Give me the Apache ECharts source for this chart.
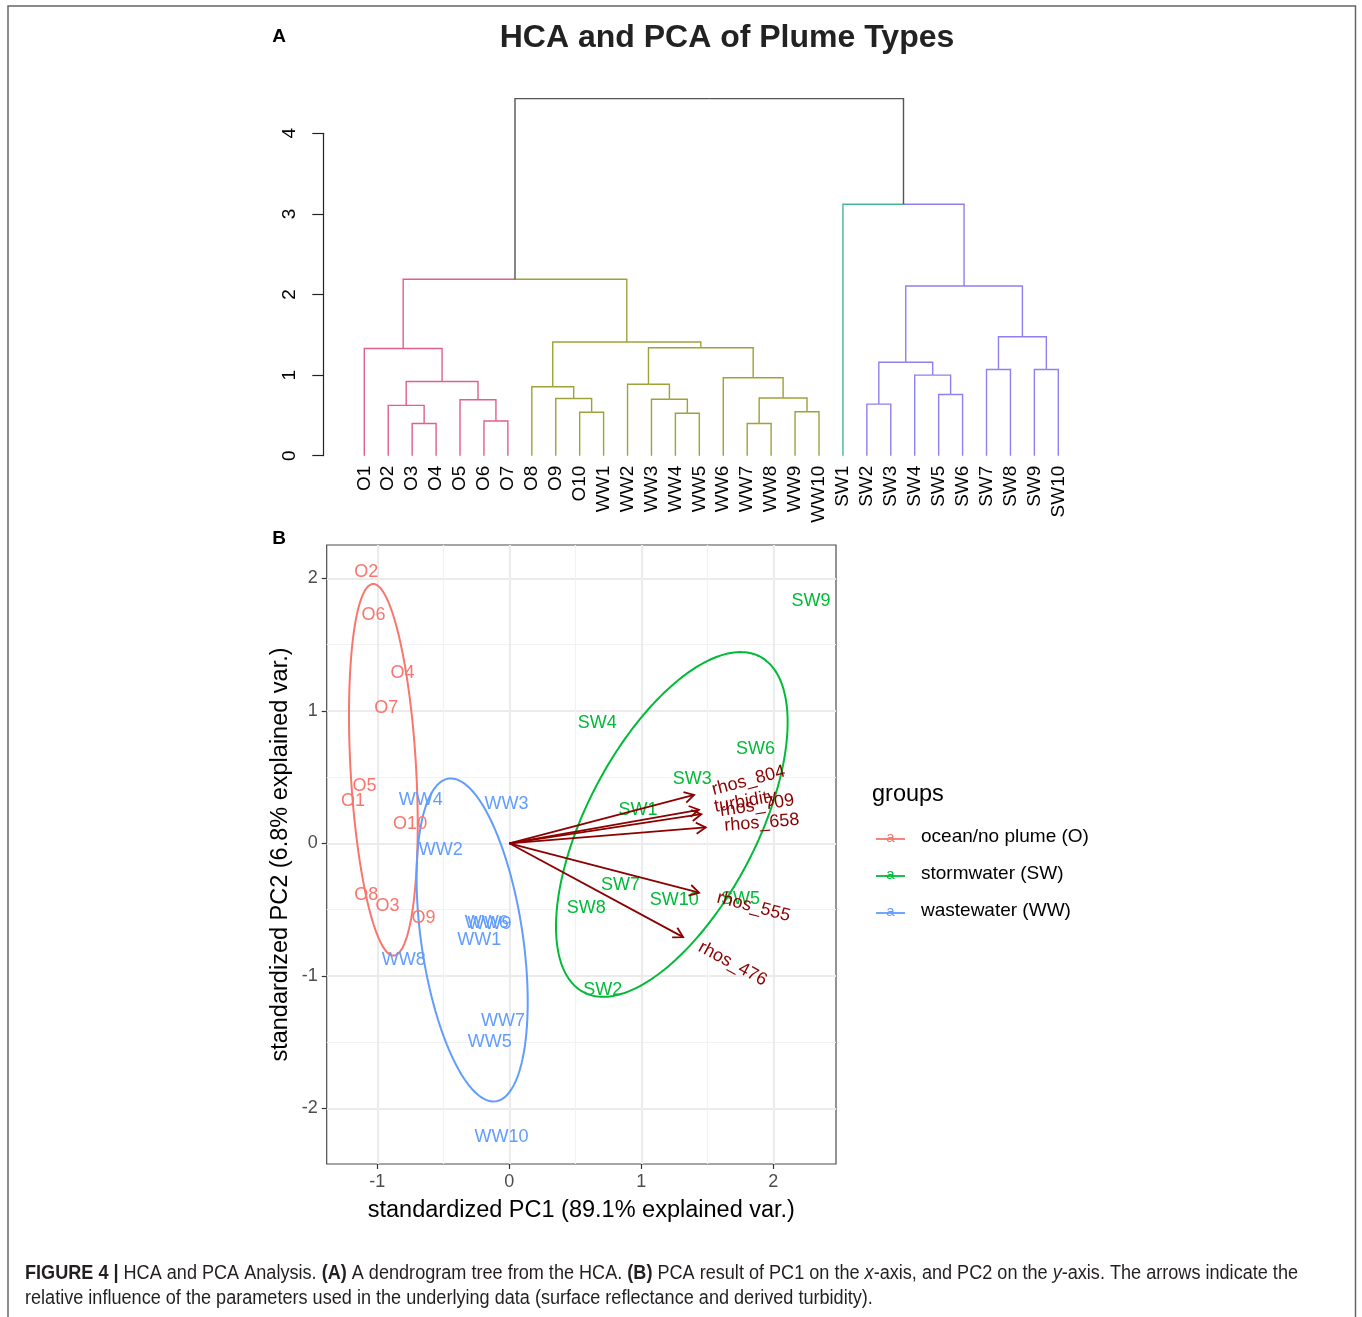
<!DOCTYPE html>
<html><head><meta charset="utf-8">
<script src="https://cdn.jsdelivr.net/npm/echarts@6/dist/echarts.min.js"></script>
<style>html,body{margin:0;padding:0;background:#fff}#c{width:1362px;height:1317px}</style>
</head><body><div id="c"></div><script>
// ---------------- DATA ----------------
// Dendrogram (HCA)
const leafNames = ['O1','O2','O3','O4','O5','O6','O7','O8','O9','O10','WW1','WW2','WW3','WW4','WW5','WW6','WW7','WW8','WW9','WW10','SW1','SW2','SW3','SW4','SW5','SW6','SW7','SW8','SW9','SW10'];
const leafCluster = [0,0,0,0,0,0,0,1,1,1,1,1,1,1,1,1,1,1,1,1,2,3,3,3,3,3,3,3,3,3];
// R hclust-style merges: negative = leaf (1-based), positive = earlier merge (1-based)
const mergeA = [-3,-6,-17,-14,-10,-19,-2,-22,-5,-13,-9,3,-25,-8,-12,7,-16,-24,-27,-29,8,-1,15,14,19,21,22,-21,27];
const mergeB = [-4,-7,-18,-15,-11,-20,1,-23,2,4,5,6,-26,11,10,9,12,13,-28,-30,18,16,17,23,20,25,24,26,28];
const mergeHeight = [0.40,0.43,0.40,0.526,0.54,0.546,0.625,0.64,0.695,0.70,0.71,0.716,0.76,0.856,0.886,0.92,0.968,1.0,1.07,1.07,1.16,1.33,1.34,1.41,1.476,2.105,2.19,3.12,4.43];
const dendroTicks = [0,1,2,3,4];

// PCA biplot
const groupNames = ['ocean/no plume (O)','stormwater (SW)','wastewater (WW)'];
const oLabels = ['O1','O2','O3','O4','O5','O6','O7','O8','O9','O10'];
const oPC1 = [-1.183,-1.083,-0.922,-0.809,-1.096,-1.028,-0.932,-1.083,-0.650,-0.751];
const oPC2 = [0.320,2.046,-0.474,1.287,0.431,1.723,1.018,-0.388,-0.562,0.149];
const swLabels = ['SW1','SW2','SW3','SW4','SW5','SW6','SW7','SW8','SW9','SW10'];
const swPC1 = [0.975,0.708,1.387,0.666,1.752,1.866,0.842,0.583,2.285,1.249];
const swPC2 = [0.249,-1.106,0.484,0.905,-0.418,0.711,-0.317,-0.489,1.829,-0.426];
const wwLabels = ['WW1','WW2','WW3','WW4','WW5','WW6','WW7','WW8','WW9','WW10'];
const wwPC1 = [-0.228,-0.519,-0.021,-0.670,-0.147,-0.170,-0.047,-0.800,-0.150,-0.059];
const wwPC2 = [-0.728,-0.048,0.295,0.330,-1.497,-0.600,-1.338,-0.879,-0.610,-2.220];
const varNames = ['rhos_476','rhos_555','rhos_658','rhos_709','rhos_804','turbidity'];
const varPC1 = [1.317,1.438,1.488,1.455,1.400,1.437];
const varPC2 = [-0.708,-0.373,0.120,0.220,0.365,0.253];
const pcaXTicks = [-1,0,1,2];
const pcaXMinor = [-0.5,0.5,1.5];
const pcaYTicks = [-2,-1,0,1,2];
const pcaYMinor = [-1.5,-0.5,0.5,1.5];
const ellipseProb = 0.68;

// ---------------- STYLE ----------------
const FF = "'Liberation Sans', Arial, Helvetica, sans-serif";
const clusterColors = ['#E0608A','#9EA238','#45B59C','#8E80F0'];
const rootColor = '#555555';
const groupColors = ['#F8766D','#00BA38','#619CFF'];
const arrowColor = '#8B0000';

// ---------------- DENDROGRAM GEOMETRY ----------------
const nodeX = [], nodeH = [], nodeCl = [];
function childInfo(c){
  if (c < 0) return {x: -c-1, h: 0, cl: leafCluster[-c-1]};
  return {x: nodeX[c-1], h: nodeH[c-1], cl: nodeCl[c-1]};
}
const segments = [];
for (let m = 0; m < mergeHeight.length; m++){
  const a = childInfo(mergeA[m]), b = childInfo(mergeB[m]);
  nodeX[m] = (a.x + b.x)/2; nodeH[m] = mergeHeight[m];
  nodeCl[m] = (a.cl === b.cl) ? a.cl : -1;
  [a,b].forEach(c => segments.push([nodeX[m], nodeH[m], c.x, c.h, c.cl]));
}

// ---------------- ELLIPSES ----------------
function ellipse(xs, ys){
  const n = xs.length;
  const mx = xs.reduce((s,v)=>s+v,0)/n, my = ys.reduce((s,v)=>s+v,0)/n;
  let sxx=0, syy=0, sxy=0;
  for (let i=0;i<n;i++){const dx=xs[i]-mx, dy=ys[i]-my; sxx+=dx*dx; syy+=dy*dy; sxy+=dx*dy;}
  sxx/=(n-1); syy/=(n-1); sxy/=(n-1);
  const a = Math.sqrt(sxx), b = sxy/a, c = Math.sqrt(syy - b*b);
  const ed = Math.sqrt(-2*Math.log(1-ellipseProb));
  const pts = [];
  for (let k=0;k<=200;k++){
    const t = -Math.PI + 2*Math.PI*k/200;
    const ct = Math.cos(t), st = Math.sin(t);
    pts.push([mx + ed*ct*a, my + ed*(ct*b + st*c)]);
  }
  return pts;
}

const ctx = document.createElement('canvas').getContext('2d');
function textWidth(s, size, weight, style){
  ctx.font = (style||'normal') + ' ' + (weight||'normal') + ' ' + size + 'px ' + FF;
  return ctx.measureText(s).width;
}

// ---------------- CAPTION ----------------
const capSize = 20;
const capParts = [
  ['FIGURE 4 |','b'],[' HCA and PCA Analysis. ',''],['(A)','b'],[' A dendrogram tree from the HCA. ',''],
  ['(B)','b'],[' PCA result of PC1 on the ',''],['x','i'],['-axis, and PC2 on the ',''],['y','i'],['-axis. The arrows indicate the','']
];
const capLine2 = 'relative influence of the parameters used in the underlying data (surface reflectance and derived turbidity).';
const capW1 = capParts.reduce((s,p)=>s+textWidth(p[0], capSize, p[1]==='b'?'bold':'normal', p[1]==='i'?'italic':'normal'),0);
const capScale = 1273 / capW1;
const capText1 = capParts.map(p => p[1] ? '{'+p[1]+'|'+p[0]+'}' : p[0]).join('');

// ---------------- CHART ----------------
const chart = echarts.init(document.getElementById('c'), null, {renderer:'canvas', width:1362, height:1317});

function labelSeries(labels, xs, ys, color){
  return {
    type:'custom', xAxisIndex:2, yAxisIndex:1, clip:false, z:5,
    data: xs.map((x,i)=>[x, ys[i]]),
    renderItem(params, api){
      const p = api.coord([api.value(0), api.value(1)]);
      return {type:'text', x:p[0], y:p[1],
        style:{text: labels[params.dataIndex], fill: color, fontSize:18, fontFamily:FF,
               align:'center', verticalAlign:'middle', textAlign:'center', textVerticalAlign:'middle'}};
    }
  };
}
function ellipseSeries(xs, ys, color){
  return {type:'line', xAxisIndex:2, yAxisIndex:1, data: ellipse(xs, ys), showSymbol:false, symbol:'none',
          lineStyle:{color, width:2}, z:4, silent:true};
}

const option = {
  animation:false,
  backgroundColor:'#fff',
  grid:[
    {left:364.3, top:133.3, width:694, height:322.4},
    {left:326.7, top:545, width:509.3, height:619, show:true, borderColor:'#4d4d4d', borderWidth:1.2, backgroundColor:'transparent'}
  ],
  xAxis:[
    {gridIndex:0, type:'category', data:leafNames, boundaryGap:false, position:'bottom',
     axisLine:{show:false, onZero:false}, axisTick:{show:false}, splitLine:{show:false},
     axisLabel:{rotate:90, interval:0, fontSize:19, fontFamily:FF, color:'#000', margin:10}},
    {gridIndex:0, type:'value', min:0, max:29, show:false, axisLine:{onZero:false}},
    {gridIndex:1, type:'value', min:-1.383, max:2.475, position:'bottom',
     axisLine:{show:false, onZero:false},
     axisTick:{show:true, length:5, lineStyle:{color:'#333', width:1.2}, customValues:pcaXTicks},
     axisLabel:{customValues:pcaXTicks, fontSize:18, fontFamily:FF, color:'#4d4d4d', margin:9},
     splitLine:{show:true, lineStyle:{color:'#EBEBEB', width:2}},
     name:'standardized PC1 (89.1% explained var.)', nameLocation:'middle', nameGap:35,
     nameTextStyle:{fontSize:23.5, fontFamily:FF, color:'#000'}},
    {gridIndex:1, type:'value', min:-1.383, max:2.475, position:'top',
     axisLine:{show:false, onZero:false}, axisTick:{show:false, customValues:pcaXMinor}, axisLabel:{show:false},
     splitLine:{show:true, lineStyle:{color:'#F2F2F2', width:1.2}}}
  ],
  yAxis:[
    {gridIndex:0, type:'value', min:0, max:4, interval:1, offset:41, position:'left',
     axisLine:{show:true, onZero:false, lineStyle:{color:'#222', width:1.2}},
     axisTick:{show:true, length:11, lineStyle:{color:'#222', width:1.2}},
     axisLabel:{rotate:90, fontSize:19, fontFamily:FF, color:'#000', margin:24},
     splitLine:{show:false}},
    {gridIndex:1, type:'value', min:-2.42, max:2.251, position:'left',
     axisLine:{show:false, onZero:false},
     axisTick:{show:true, length:5, lineStyle:{color:'#333', width:1.2}, customValues:pcaYTicks},
     axisLabel:{customValues:pcaYTicks, fontSize:18, fontFamily:FF, color:'#4d4d4d', margin:9},
     splitLine:{show:true, lineStyle:{color:'#EBEBEB', width:2}},
     name:'standardized PC2 (6.8% explained var.)', nameLocation:'middle', nameGap:34,
     nameTextStyle:{fontSize:23.5, fontFamily:FF, color:'#000'}},
    {gridIndex:1, type:'value', min:-2.42, max:2.251, position:'right',
     axisLine:{show:false, onZero:false}, axisTick:{show:false, customValues:pcaYMinor}, axisLabel:{show:false},
     splitLine:{show:true, lineStyle:{color:'#F2F2F2', width:1.2}}}
  ],
  series:[
    {type:'custom', xAxisIndex:1, yAxisIndex:0, clip:false, z:3, silent:true,
     data: segments,
     renderItem(params, api){
       const xp=api.value(0), hp=api.value(1), xc=api.value(2), hc=api.value(3), cl=api.value(4);
       const p1=api.coord([xp,hp]), p2=api.coord([xc,hp]), p3=api.coord([xc,hc]);
       return {type:'polyline', shape:{points:[p1,p2,p3]},
               style:{stroke: cl>=0 ? clusterColors[cl] : rootColor, lineWidth:1.4, fill:null}};
     }},
    ellipseSeries(oPC1, oPC2, groupColors[0]),
    ellipseSeries(swPC1, swPC2, groupColors[1]),
    ellipseSeries(wwPC1, wwPC2, groupColors[2]),
    labelSeries(oLabels, oPC1, oPC2, groupColors[0]),
    labelSeries(swLabels, swPC1, swPC2, groupColors[1]),
    labelSeries(wwLabels, wwPC1, wwPC2, groupColors[2]),
    {type:'custom', xAxisIndex:2, yAxisIndex:1, clip:false, z:6, silent:true,
     data: varPC1.map((x,i)=>[x, varPC2[i]]),
     renderItem(params, api){
       const o = api.coord([0,0]);
       const t = api.coord([api.value(0), api.value(1)]);
       const ang = Math.atan2(t[1]-o[1], t[0]-o[0]);
       const hl = 11, ha = Math.PI/6;
       const h1 = [t[0]-hl*Math.cos(ang-ha), t[1]-hl*Math.sin(ang-ha)];
       const h2 = [t[0]-hl*Math.cos(ang+ha), t[1]-hl*Math.sin(ang+ha)];
       const name = varNames[params.dataIndex];
       const w = textWidth(name, 18);
       return {type:'group', children:[
         {type:'line', shape:{x1:o[0],y1:o[1],x2:t[0],y2:t[1]}, style:{stroke:arrowColor, lineWidth:1.8}},
         {type:'polyline', shape:{points:[h1,t,h2]}, style:{stroke:arrowColor, lineWidth:1.8, fill:null}},
         {type:'text', x:t[0], y:t[1], rotation:-ang,
          style:{text:name, x:0.25*w, y:0, fill:arrowColor, fontSize:18, fontFamily:FF,
                 align:'left', verticalAlign:'middle', textAlign:'left', textVerticalAlign:'middle'}}
       ]};
     }}
  ],
  graphic:[
    {type:'polyline', silent:true, shape:{points:[[8,1330],[8,6],[1355.5,6],[1355.5,1330]]}, style:{stroke:'#666', lineWidth:1.5, fill:null}},
    {type:'text', x:279, y:37, style:{text:'A', fontSize:19, fontWeight:'bold', fontFamily:FF, fill:'#000', align:'center', verticalAlign:'middle'}},
    {type:'text', x:727, y:38, style:{text:'HCA and PCA of Plume Types', fontSize:32, fontWeight:'bold', fontFamily:FF, fill:'#222', align:'center', verticalAlign:'middle'}},
    {type:'text', x:279, y:539, style:{text:'B', fontSize:19, fontWeight:'bold', fontFamily:FF, fill:'#000', align:'center', verticalAlign:'middle'}},
    {type:'text', x:872, y:795, style:{text:'groups', fontSize:23.5, fontFamily:FF, fill:'#000', align:'left', verticalAlign:'middle'}},
    ...groupNames.flatMap((g,i)=>{
      const y = 837 + i*37;
      return [
        {type:'line', silent:true, shape:{x1:876, y1:y+2, x2:905, y2:y+2}, style:{stroke:groupColors[i], lineWidth:1.8}},
        {type:'text', x:890.5, y:y+1, style:{text:'a', fontSize:15, fontFamily:FF, fill:groupColors[i], align:'center', verticalAlign:'middle'}},
        {type:'text', x:921, y:y, style:{text:g, fontSize:19, fontFamily:FF, fill:'#000', align:'left', verticalAlign:'middle'}}
      ];
    }),
    {type:'text', x:25, y:1273, scaleX:capScale, style:{
      text:capText1, fontSize:capSize, fontFamily:FF, fill:'#231f20', align:'left', verticalAlign:'middle',
      rich:{b:{fontWeight:'bold', fontSize:capSize, fontFamily:FF, fill:'#231f20'},
            i:{fontStyle:'italic', fontSize:capSize, fontFamily:FF, fill:'#231f20'}}}},
    {type:'text', x:25, y:1298, scaleX:capScale, style:{
      text:capLine2, fontSize:capSize, fontFamily:FF, fill:'#231f20', align:'left', verticalAlign:'middle'}}
  ]
};
chart.setOption(option);
</script></body></html>
